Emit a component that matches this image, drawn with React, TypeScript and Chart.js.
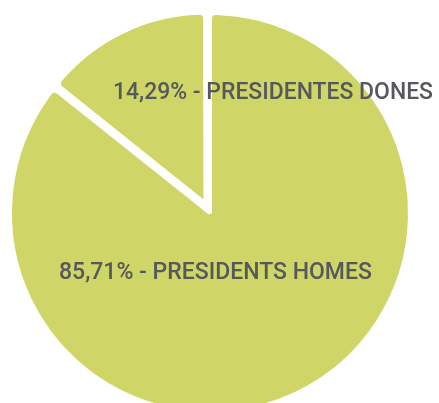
import React, { useEffect, useRef } from "react";
import { Chart, registerables } from "chart.js";

Chart.register(...registerables);

const categories: string[] = ["PRESIDENTS HOMES", "PRESIDENTES DONES"];
const percentages: number[] = [85.71, 14.29];
const sliceColors: string[] = ["#d0d567", "#d0d567"];

const formatLabel = (value: number, name: string) =>
  `${value.toFixed(2).replace(".", ",")}% - ${name}`;

export default function App() {
  const ref = useRef<HTMLCanvasElement | null>(null);

  useEffect(() => {
    if (!ref.current) return;

    const shrinkSmall = {
      id: "shrinkSmall",
      afterDatasetsUpdate(chart: any) {
        const meta = chart.getDatasetMeta(0);
        const el = meta.data[1];
        if (el) el.outerRadius = 188.5;
      },
    };

    const labelPlugin = {
      id: "sliceLabels",
      afterDatasetsDraw(chart: any) {
        const ctx = chart.ctx as CanvasRenderingContext2D;
        const pos = [
          { x: 59, y: 279, w: 314 },
          { x: 113, y: 99, w: 320 },
        ];
        ctx.save();
        ctx.fillStyle = "#56585b";
        ctx.font = "500 23px Roboto";
        ctx.textAlign = "left";
        ctx.textBaseline = "alphabetic";
        categories.forEach((c, i) => {
          const t = formatLabel(percentages[i], c);
          ctx.fillText(t, pos[i].x, pos[i].y, pos[i].w);
        });
        ctx.restore();
      },
    };

    const chart = new Chart(ref.current, {
      type: "pie",
      data: {
        labels: categories,
        datasets: [
          {
            data: percentages,
            backgroundColor: sliceColors,
            borderColor: "#ffffff",
            borderWidth: 4,
            borderRadius: 6,
            offset: [0, 42],
            hoverOffset: 0,
          },
        ],
      },
      options: {
        responsive: false,
        animation: false,
        radius: 200,
        rotation: 0,
        layout: { padding: { left: 0, top: 0, bottom: 0, right: 19 } },
        plugins: {
          legend: { display: false },
          tooltip: { enabled: false },
        },
      } as any,
      plugins: [shrinkSmall, labelPlugin],
    });

    return () => chart.destroy();
  }, []);

  return (
    <div style={{ position: "absolute", left: 0, top: 0 }}>
      <canvas ref={ref} width={439} height={426} style={{ display: "block" }} />
    </div>
  );
}
